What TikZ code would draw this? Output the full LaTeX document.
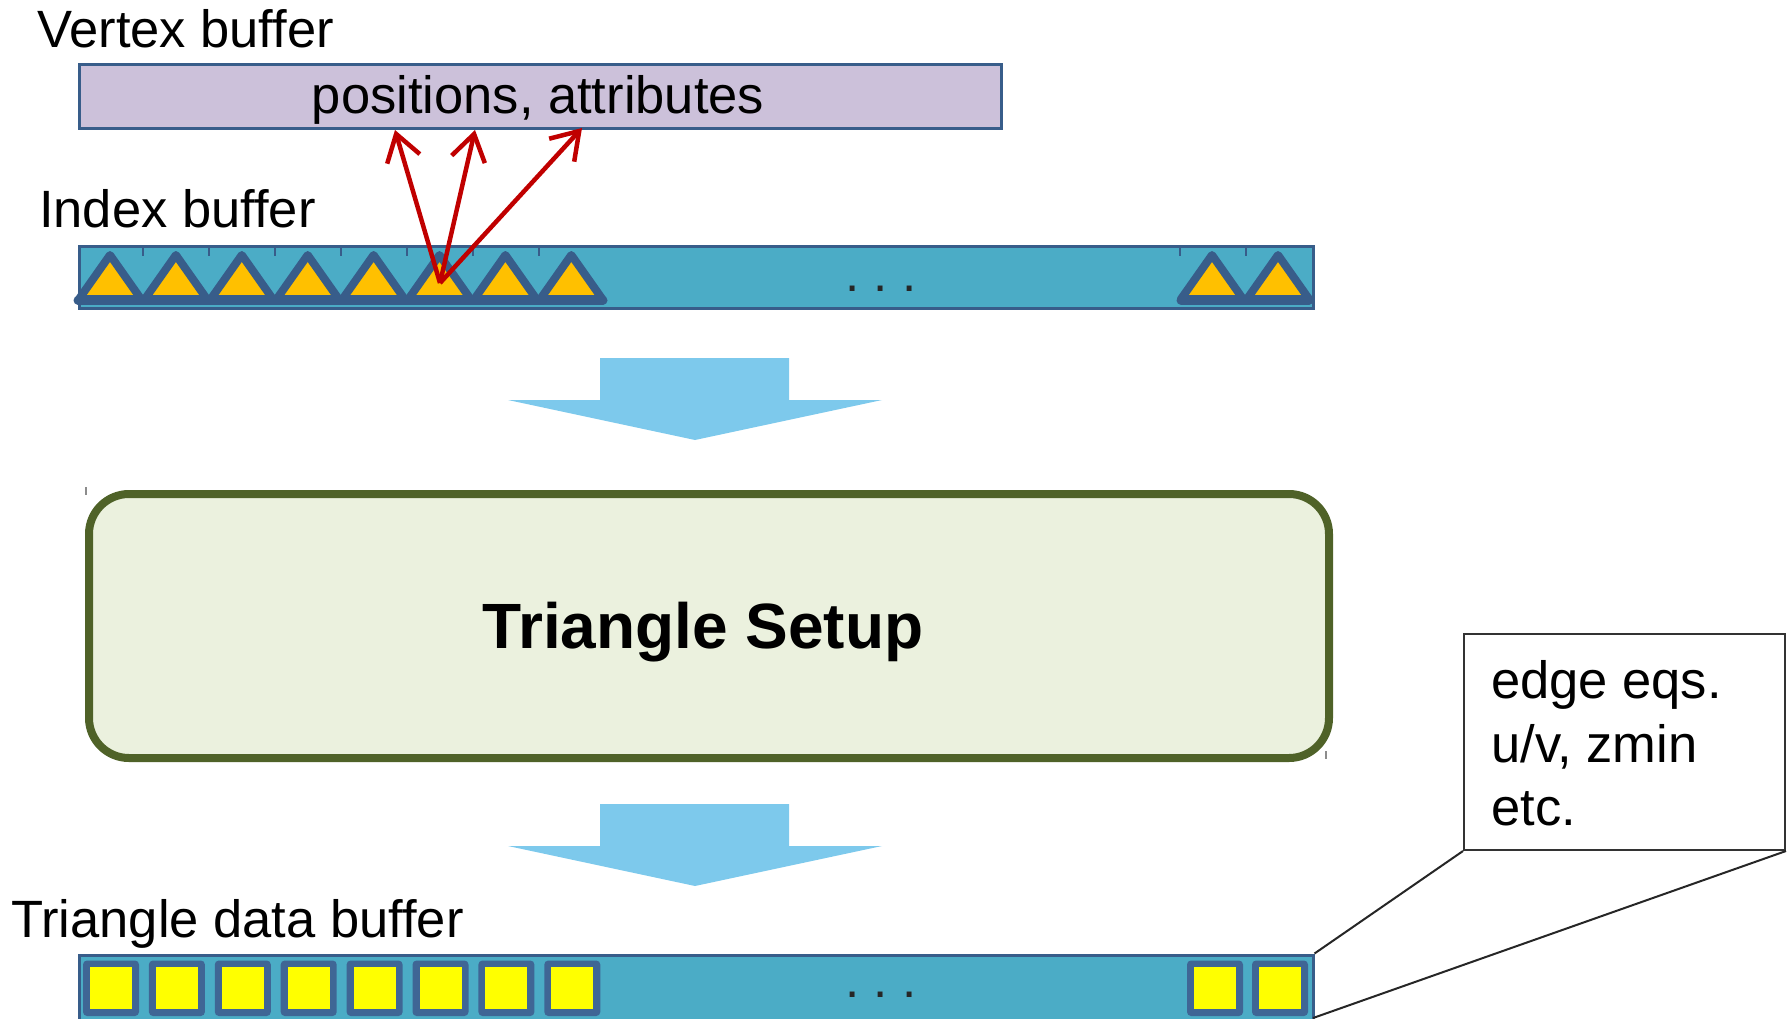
\documentclass[tikz,border=0pt]{standalone}
\usepackage{fontspec}
\setmainfont{Liberation Sans}
\usetikzlibrary{arrows.meta}
\definecolor{lavender}{HTML}{CCC1DA}
\definecolor{bufedge}{HTML}{385D8A}
\definecolor{aqua}{HTML}{4BACC6}
\definecolor{trifill}{HTML}{FFC000}
\definecolor{flowblue}{HTML}{7DC9EC}
\definecolor{setupfill}{HTML}{EBF1DE}
\definecolor{setupedge}{HTML}{4F6228}
\definecolor{idxred}{HTML}{C00000}
\definecolor{cellyellow}{HTML}{FFFF00}
\definecolor{celledge}{HTML}{3F6695}

\begin{document}
\begin{tikzpicture}[x=1pt,y=-1pt,
  lbl/.style={anchor=base west, inner sep=0pt, font=\fontsize{52.5}{63.5}\selectfont},
  buffer/.style={anchor=north west, inner sep=0pt, draw=bufedge, line width=3pt},
  tristyle/.style={draw=bufedge, fill=trifill, line width=8pt, line join=round},
  fetch/.style={draw=idxred, line width=4.5pt,
    -{Straight Barb[length=26pt, width=34pt, line width=4.5pt]}},
  flow/.style={fill=flowblue},
  tick/.style={draw=bufedge, line width=1.2pt},
  cellbox/.style={fill=celledge, rounded corners=4pt},
  cellcore/.style={fill=cellyellow},
  dots/.style={anchor=base, inner sep=0pt, font=\fontsize{51}{60}\selectfont, text=black!85}
]
\useasboundingbox (0,0) rectangle (1789,1018);
\clip (0,0) rectangle (1789,1018);

% ---------- vertex buffer ----------
\node[lbl] (vlabel) at (37,47) {Vertex buffer};
\node[buffer, fill=lavender, minimum width=922pt, minimum height=64pt] (vbuf) at (77.5,62.5) {};
\node[anchor=base, inner sep=0pt, font=\fontsize{52.5}{60}\selectfont] (vtext) at (538,113) {positions, attributes};

% ---------- index buffer ----------
\node[lbl] (ilabel) at (39,227) {Index buffer};
\node[buffer, fill=aqua, minimum width=1233.5pt, minimum height=62pt] (ibuf) at (78,244.5) {};
\foreach \x in {143,209,275,341,407,473,539,1180,1246}
  \draw[tick] (\x,248) -- (\x,256);
\foreach \k in {0,...,7}
  \draw[tristyle] ({110+65.9*\k},255) -- ({141+65.9*\k},299) -- ({79+65.9*\k},299) -- cycle;
\draw[bufedge, line width=9pt, line cap=round] (78,300) -- (603,300);
\foreach \cx in {1212,1278}
  \draw[tristyle] (\cx,255) -- (\cx+31,299) -- (\cx-31,299) -- cycle;
\draw[bufedge, line width=9pt, line cap=round] (1181,300) -- (1309,300);
\node[dots] (idots) at (881,291) {.\ .\ .};

% ---------- indices fetching vertices ----------
\coordinate (src) at (440,283);
\coordinate (v1) at (395,130);
\coordinate (v2) at (475,130);
\coordinate (v3) at (582,128);
\draw[fetch] (src) -- (v1);
\draw[fetch] (src) -- (v2);
\draw[fetch] (src) -- (v3);

% ---------- block arrow into the setup stage ----------
\fill[flow] (600,358) -- (789,358) -- (789,400) -- (882,400) -- (695,440)
  -- (508,400) -- (600,400) -- cycle;

% ---------- triangle setup ----------
\node[anchor=north west, inner sep=0pt, draw=setupedge, fill=setupfill, line width=8pt,
  rounded corners=40pt, minimum width=1240pt, minimum height=264pt] (setup) at (85,490) {};
\node[anchor=base, inner sep=0pt, font=\fontsize{64}{70}\selectfont\bfseries] (setuplabel)
  at (703,648) {Triangle Setup};
\draw[black!45, line width=1.2pt] (86,487) -- (86,495);
\draw[black!45, line width=1.2pt] (1326,751) -- (1326,759);

% ---------- block arrow out of the setup stage ----------
\fill[flow] (600,804) -- (789,804) -- (789,846) -- (882,846) -- (695,886)
  -- (508,846) -- (600,846) -- cycle;

% ---------- triangle data buffer ----------
\node[lbl] (tlabel) at (11,937) {Triangle data buffer};
\node[buffer, fill=aqua, minimum width=1234pt, minimum height=100pt] (tbuf) at (77.5,953.5) {};
\foreach \k in {0,...,7} {
  \path[cellbox] ({83+65.9*\k},960.5) rectangle ({139+65.9*\k},1016);
  \path[cellcore] ({90+65.9*\k},967) rectangle ({132+65.9*\k},1009);
}
\foreach \x in {1187,1252} {
  \path[cellbox] (\x,960.5) rectangle (\x+56,1016);
  \path[cellcore] (\x+7,967) rectangle (\x+49,1009);
}
\node[dots] (tdots) at (881,997) {.\ .\ .};

% ---------- per-triangle record callout ----------
\node[anchor=north west, inner sep=0pt, draw=black!80, fill=white, line width=2pt,
  minimum width=321pt, minimum height=216pt] (callout) at (1463,633) {};
\node[lbl] (c1) at (1491,698) {edge eqs.};
\node[lbl] (c2) at (1491,762) {u/v, zmin};
\node[lbl] (c3) at (1491,825) {etc.};
\coordinate (tbufcut) at (1313,1018);
\draw[black!85, line width=2pt] (callout.south west) -- (tbuf.north east);
\draw[black!85, line width=2pt] (callout.south east) -- (tbufcut);
\end{tikzpicture}
\end{document}
